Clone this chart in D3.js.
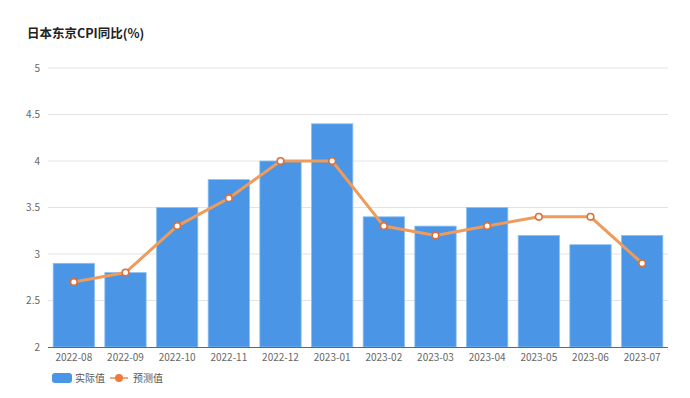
<!DOCTYPE html>
<html><head><meta charset="utf-8">
<script src="https://cdn.jsdelivr.net/npm/d3@7"></script>
<style>body{margin:0;background:#fff;font-family:"Noto Sans CJK SC","Noto Sans",sans-serif}</style>
</head><body><svg id="c" width="690" height="398"></svg>
<script>
const categories = ["2022-08","2022-09","2022-10","2022-11","2022-12","2023-01","2023-02","2023-03","2023-04","2023-05","2023-06","2023-07"];
const actual = [2.9,2.8,3.5,3.8,4.0,4.4,3.4,3.3,3.5,3.2,3.1,3.2];
const forecast = [2.7,2.8,3.3,3.6,4.0,4.0,3.3,3.2,3.3,3.4,3.4,2.9];
const yTicks = [2,2.5,3,3.5,4,4.5,5];
const title = "日本东京CPI同比(%)";
const legendNames = ["实际值","预测值"];

const svg = d3.select("#c");
const font = '"Noto Sans CJK SC","Noto Sans",sans-serif';
const x = d3.scaleBand().domain(categories).range([48,668]).paddingInner(0.2).paddingOuter(0.1);
const y = d3.scaleLinear().domain([2,5]).range([347,68]);

svg.append("text").attr("x",27).attr("y",38).attr("font-size",12.5).attr("font-weight","bold").attr("fill","#222").attr("font-family",font).text(title);

const g = svg.append("g");
g.selectAll("line.grid").data(yTicks.slice(1)).join("line")
  .attr("x1",48).attr("x2",668).attr("y1",d=>y(d)).attr("y2",d=>y(d))
  .attr("stroke","#e3e3e3").attr("stroke-width",1);
g.selectAll("text.yl").data(yTicks).join("text")
  .attr("x",40).attr("y",d=>y(d)+3.5).attr("text-anchor","end")
  .attr("font-size",10).attr("fill","#666").attr("font-family",font).text(d=>d);

g.selectAll("rect.bar").data(actual).join("rect")
  .attr("x",(d,i)=>x(categories[i])).attr("width",x.bandwidth())
  .attr("y",d=>y(d)).attr("height",d=>y(2)-y(d))
  .attr("fill","#4a95e5").attr("stroke","#8cc0f2").attr("stroke-width",0.8);

g.append("line").attr("x1",48).attr("x2",668).attr("y1",347.5).attr("y2",347.5).attr("stroke","#666").attr("stroke-width",1);

g.selectAll("text.xl").data(categories).join("text")
  .attr("x",d=>x(d)+x.bandwidth()/2).attr("y",361).attr("text-anchor","middle")
  .attr("font-size",10).attr("fill","#666").attr("font-family",font).text(d=>d);

const line = d3.line().x((d,i)=>x(categories[i])+x.bandwidth()/2).y(d=>y(d));
g.append("path").attr("d",line(forecast)).attr("fill","none").attr("stroke","#ee9b5c").attr("stroke-width",3);
g.selectAll("circle.pt").data(forecast).join("circle")
  .attr("cx",(d,i)=>x(categories[i])+x.bandwidth()/2).attr("cy",d=>y(d)).attr("r",3.3)
  .attr("fill","#fff").attr("stroke","#d9703a").attr("stroke-width",1.6);

// legend
const lg = svg.append("g");
lg.append("rect").attr("x",52).attr("y",373).attr("width",20).attr("height",10).attr("rx",3).attr("fill","#4a95e5");
lg.append("text").attr("x",75).attr("y",382).attr("font-size",10).attr("fill","#555").attr("font-family",font).text(legendNames[0]);
lg.append("line").attr("x1",110).attr("x2",128).attr("y1",378).attr("y2",378).attr("stroke","#ee8a4a").attr("stroke-width",1.5);
lg.append("circle").attr("cx",119).attr("cy",378).attr("r",4).attr("fill","#f07a3a");
lg.append("text").attr("x",133).attr("y",382).attr("font-size",10).attr("fill","#555").attr("font-family",font).text(legendNames[1]);
</script></body></html>
